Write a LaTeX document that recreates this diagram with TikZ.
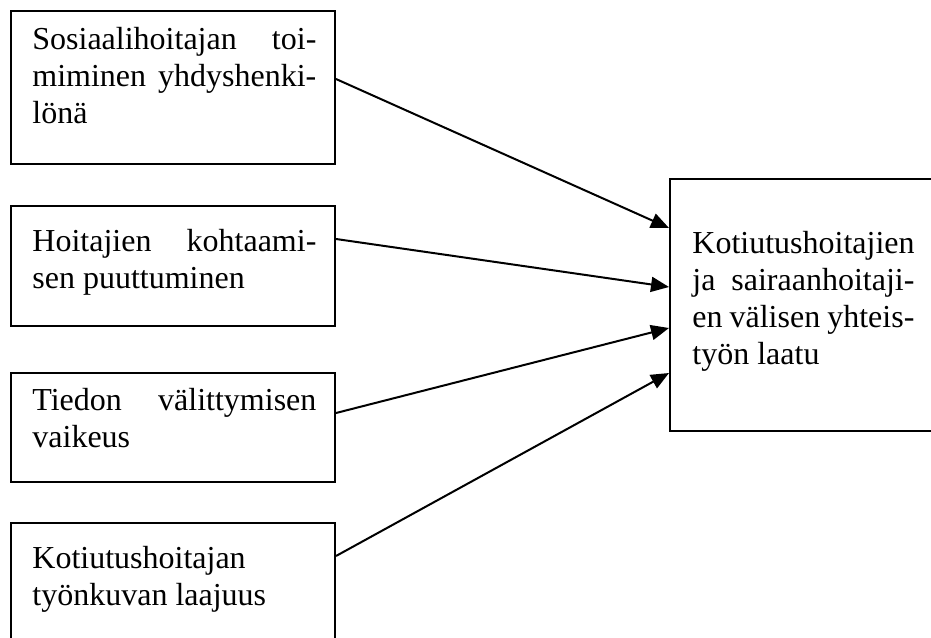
\documentclass[tikz,border=0pt]{standalone}
\usepackage{fontspec}
\setmainfont{Liberation Serif}
\usetikzlibrary{arrows.meta}
\begin{document}
\begin{tikzpicture}[x=0.5pt,y=-0.5pt,
  box/.style={draw=black,line width=1pt,fill=none,inner sep=0pt,minimum width=162pt},
  txt/.style={anchor=base west,inner sep=0pt,font=\fontsize{16}{18.5}\selectfont},
  conn/.style={line width=1pt,-{Triangle[length=9pt,width=7.5pt]}}]
\useasboundingbox[fill=white] (0,0) rectangle (931,637);
\node[box,minimum height=76.5pt] (b1) at (173,87.5) {};
\node[box,minimum height=60pt] (b2) at (173,266) {};
\node[box,minimum height=54.5pt] (b3) at (173,427.5) {};
\node[box,minimum height=68.5pt] (b4) at (173,591.5) {};
\node[box,minimum width=145pt,minimum height=126pt] (r) at (815,305) {};
\node[txt] (t1) at (32,49) {\parbox[t]{142pt}{Sosiaalihoitajan\hfill toi-\\miminen\hfill yhdyshenki-\\lönä}};
\node[txt] (t2) at (32,251) {\parbox[t]{142pt}{Hoitajien\hfill kohtaami-\\sen puuttuminen}};
\node[txt] (t3) at (32,410) {\parbox[t]{142pt}{Tiedon\hfill välittymisen\\vaikeus}};
\node[txt] (t4) at (32,568) {\parbox[t]{142pt}{Kotiutushoitajan\\työnkuvan laajuus}};
\node[txt] (tr) at (692,253) {\parbox[t]{111pt}{Kotiutushoitajien\\ja\hfill sairaanhoitaji-\\en\hfill välisen\hfill yhteis-\\työn laatu}};
\draw[conn] ([yshift=4.25pt]b1.east) -- ([yshift=38.5pt]r.west);
\draw[conn] ([yshift=13.5pt]b2.east) -- ([yshift=9pt]r.west);
\draw[conn] ([yshift=7.25pt]b3.east) -- ([yshift=-11.5pt]r.west);
\draw[conn] ([yshift=-17pt]b4.north east) -- ([yshift=-34pt]r.west);
\end{tikzpicture}
\end{document}
